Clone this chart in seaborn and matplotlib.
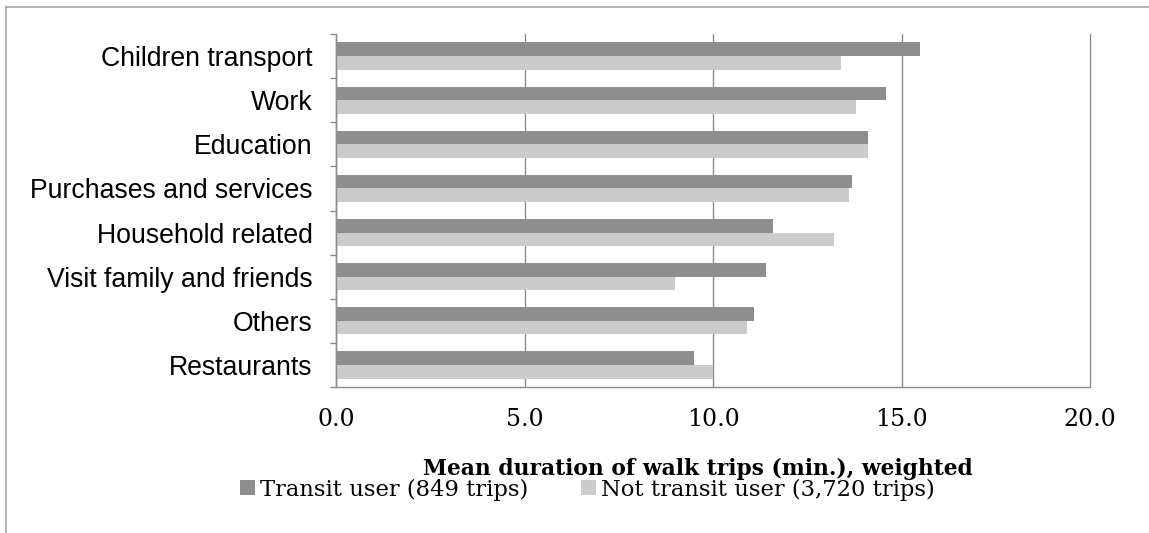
import matplotlib

matplotlib.use("Agg")
import matplotlib.pyplot as plt
import numpy as np
import pandas as pd
import seaborn as sns
from matplotlib.lines import Line2D
from matplotlib.patches import Patch

# values (minutes)
PURPOSES = [
    "Children transport",
    "Work",
    "Education",
    "Purchases and services",
    "Household related",
    "Visit family and friends",
    "Others",
    "Restaurants",
]
TRANSIT_MIN = [15.5, 14.6, 14.1, 13.7, 11.6, 11.4, 11.1, 9.5]
NON_TRANSIT_MIN = [13.4, 13.8, 14.1, 13.6, 13.2, 9.0, 10.9, 10.0]
GROUPS = ["Transit user (849 trips)", "Not transit user (3,720 trips)"]
X_TICKS = [0, 5, 10, 15, 20]
X_LABEL = "Mean duration of walk trips (min.), weighted"

DARK = "#8e8e8e"
LIGHT = "#cbcbcb"
AXIS_GRAY = "#8c8c8c"
FRAME_GRAY = "#a6a6a6"

W, H, DPI = 1149, 533, 100


def build_frame() -> pd.DataFrame:
    rows = []
    for purpose, t, n in zip(PURPOSES, TRANSIT_MIN, NON_TRANSIT_MIN):
        rows.append({"purpose": purpose, "group": GROUPS[0], "minutes": t})
        rows.append({"purpose": purpose, "group": GROUPS[1], "minutes": n})
    return pd.DataFrame(rows)


def main() -> None:
    sns.set_style("white")
    plt.rcParams["font.family"] = ["DejaVu Serif"]
    plt.rcParams["text.color"] = "black"
    plt.rcParams["xtick.labelcolor"] = "black"
    plt.rcParams["ytick.labelcolor"] = "black"
    plt.rcParams["axes.labelcolor"] = "black"

    df = build_frame()
    fig = plt.figure(figsize=(W / DPI, H / DPI), dpi=DPI)
    ax = fig.add_axes([336 / W, 1 - 387 / H, (1090 - 336) / W, (387 - 34) / H])

    sns.barplot(
        data=df,
        x="minutes",
        y="purpose",
        hue="group",
        hue_order=GROUPS,
        order=PURPOSES,
        palette=[DARK, LIGHT],
        saturation=1,
        width=0.62,
        orient="h",
        legend=False,
        errorbar=None,
        linewidth=0,
        ax=ax,
    )

    ax.set_xlim(0, 20)
    ax.set_ylim(len(PURPOSES) - 0.5, -0.5)
    ax.set_xticks(X_TICKS)
    ax.set_xticklabels([f"{v:.1f}" for v in X_TICKS], fontsize=17)
    ax.set_yticks(range(len(PURPOSES)))
    ax.set_yticklabels(PURPOSES, family="Liberation Sans", fontsize=19.2)
    ax.set_yticks(np.arange(-0.5, len(PURPOSES)), minor=True)
    ax.set_ylabel("")

    ax.xaxis.grid(True, color=AXIS_GRAY, linewidth=1.0)
    for line in ax.get_xgridlines():
        line.set_zorder(0.5)
        line.set_clip_on(False)

    for side in ["top", "right"]:
        ax.spines[side].set_visible(False)
    for side in ["left", "bottom"]:
        ax.spines[side].set_color(AXIS_GRAY)
        ax.spines[side].set_linewidth(1.0)

    ax.tick_params(axis="x", direction="out", length=5, width=1.0, color=AXIS_GRAY, pad=10)
    ax.tick_params(axis="y", which="major", length=0, pad=17)
    ax.tick_params(axis="y", which="minor", direction="out", length=4.5, width=1.0, color=AXIS_GRAY, left=True)

    ax.set_xlabel(X_LABEL, fontsize=15.7, fontweight="bold", va="center")
    ax.xaxis.set_label_coords((698 - 336) / (1090 - 336), (387 - 469) / (387 - 34))

    handles = [Patch(facecolor=DARK, edgecolor="none"), Patch(facecolor=LIGHT, edgecolor="none")]
    fig.legend(
        handles,
        GROUPS,
        loc="center",
        bbox_to_anchor=(587.5 / W, 1 - 489.5 / H),
        ncol=2,
        frameon=False,
        fontsize=16.3,
        handlelength=0.65,
        handleheight=0.65,
        handletextpad=0.25,
        columnspacing=2.3,
        borderpad=0,
    )

    # outer chart-area border (top and left edges visible in the crop)
    fig.add_artist(Line2D([6 / W, 1], [1 - 6.5 / H, 1 - 6.5 / H], color=FRAME_GRAY, linewidth=1.2, transform=fig.transFigure))
    fig.add_artist(Line2D([6 / W, 6 / W], [0, 1 - 6.5 / H], color=FRAME_GRAY, linewidth=1.2, transform=fig.transFigure))

    fig.savefig("out.png", dpi=DPI)
    plt.close(fig)


if __name__ == "__main__":
    main()
